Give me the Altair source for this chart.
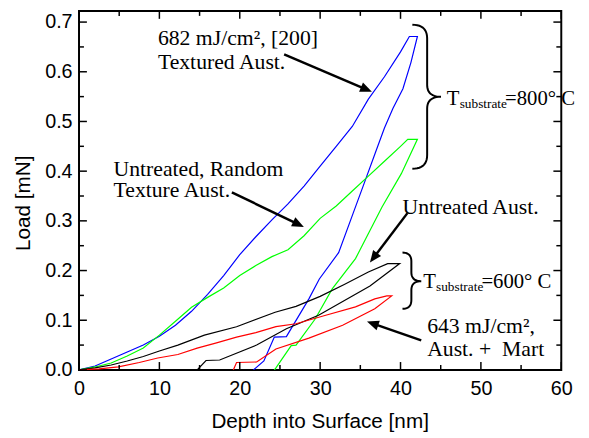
import math
import altair as alt
import numpy as np
import pandas as pd

# ---------------- data ----------------
blue_load_x = [0, 2, 4, 6, 8, 10, 12, 14, 16, 18, 20, 22, 24, 26, 28, 30, 32, 34, 36, 38, 40, 41.1, 42.1]
blue_load_y = [0, 0.008, 0.022, 0.036, 0.05, 0.068, 0.09, 0.118, 0.152, 0.19, 0.232, 0.268, 0.302, 0.334,
               0.37, 0.41, 0.45, 0.49, 0.545, 0.59, 0.64, 0.671, 0.671]
blue_unload_x = [42.1, 41.3, 40.3, 39.05, 38.0, 36.8, 35.6, 34.1, 32.3, 29.9, 28.6, 25.8, 24.3, 23.0, 21.7]
blue_unload_y = [0.671, 0.619, 0.566, 0.526, 0.487, 0.434, 0.381, 0.315, 0.236, 0.183, 0.143, 0.067, 0.066,
                 0.018, 0.0]

green_load_x = [0, 2, 4, 6, 8, 10, 12, 14, 16, 18, 20, 22, 24, 26, 28, 30, 32, 34, 36, 38, 40, 40.9, 42.1]
green_load_y = [0, 0.006, 0.014, 0.028, 0.044, 0.07, 0.098, 0.126, 0.146, 0.165, 0.19, 0.21, 0.228, 0.242,
                0.27, 0.305, 0.33, 0.36, 0.39, 0.42, 0.45, 0.464, 0.464]
green_unload_x = [42.1, 40.1, 37.7, 34.4, 31.5, 29.4, 27.0, 26.4, 24.5, 24.3]
green_unload_y = [0.464, 0.395, 0.328, 0.224, 0.163, 0.103, 0.05, 0.049, 0.004, 0.0]

black_load_x = [0, 2, 4, 6, 8, 10, 12.3, 15.6, 19.6, 24.4, 27, 30, 33, 36, 38.4, 39.9]
black_load_y = [0, 0.004, 0.01, 0.018, 0.027, 0.038, 0.05, 0.07, 0.087, 0.116, 0.128, 0.148, 0.172, 0.197,
                0.214, 0.214]
black_unload_x = [39.9, 36.2, 29.8, 25.8, 22.1, 17.5, 15.8, 14.7]
black_unload_y = [0.214, 0.169, 0.11, 0.083, 0.05, 0.02, 0.019, 0.0]

red_load_x = [0, 2.5, 4.9, 7.5, 9.8, 12.3, 14.7, 17, 19.6, 22, 24.5, 27, 30.7, 34.4, 36.8, 38.3, 38.9]
red_load_y = [0, 0.002, 0.006, 0.015, 0.024, 0.031, 0.044, 0.054, 0.066, 0.075, 0.087, 0.093, 0.11, 0.127,
              0.143, 0.149, 0.149]
red_unload_x = [38.9, 36.8, 32.8, 28.6, 24.5, 22.1, 19.6, 19.2]
red_unload_y = [0.149, 0.123, 0.09, 0.064, 0.042, 0.016, 0.015, 0.0]

curve_names = ["blue", "green", "black", "red"]
curve_colors = ["#0000FF", "#00FF00", "#000000", "#FF0000"]

x_tick_values = [0, 10, 20, 30, 40, 50, 60]
y_tick_values = [0.0, 0.1, 0.2, 0.3, 0.4, 0.5, 0.6, 0.7]
x_minor = [5, 15, 25, 35, 45, 55]
y_minor = [0.05, 0.15, 0.25, 0.35, 0.45, 0.55, 0.65]

# annotation texts
serif_texts = ["682 mJ/cm², [200]", "Textured Aust.", "Untreated, Random", "Texture Aust.",
               "Untreated Aust.", "643 mJ/cm²,", "Aust. +\u00a0 Mart"]
big_texts = ["T", "=800° C", "T", "=600° C"]
sub_texts = ["substrate", "substrate"]

# ---------------- layout ----------------
W, H = 489, 364
XMAX, YMAX = 60, 0.7224
PLOT_LEFT, PLOT_BOTTOM = 80, 372  # page pixels of plot origin


def to_data(px, py):
    return (px - PLOT_LEFT) * XMAX / W, (PLOT_BOTTOM - py) * YMAX / H


# annotation anchor points (page pixels, left / baseline)
serif_pos = [(160, 43), (160, 67), (115, 175), (115, 197), (408, 214), (433, 335), (433, 358)]
big_pos = [(453, 103), (512, 103), (429, 289), (488, 289)]
sub_pos = [(466, 106), (442, 292)]

# arrows: start -> tip (page pixels)
arrows = [((288, 52), (377, 90)), ((235, 192), (308, 227)),
          ((413, 213), (375, 263)), ((427, 342), (372, 323))]

# braces: x_end, x_back, x_tip, y_top, y_mid, y_bottom, r, r2 (page pixels)
braces = [(418, 433, 447, 22, 95, 168, 14, 12), (408, 417, 427, 253, 282, 310, 9, 9)]

# ---------------- frames ----------------
rows = []
series = {
    "blue": (blue_load_x + blue_unload_x[1:], blue_load_y + blue_unload_y[1:]),
    "green": (green_load_x + green_unload_x[1:], green_load_y + green_unload_y[1:]),
    "black": (black_load_x + black_unload_x[1:], black_load_y + black_unload_y[1:]),
    "red": (red_load_x + red_unload_x[1:], red_load_y + red_unload_y[1:]),
}
for name, (xs, ys) in series.items():
    for i, (a, b) in enumerate(zip(xs, ys)):
        rows.append({"depth": a, "load": b, "curve": name, "ord": i})
curves = pd.DataFrame(rows)

xs_scale = alt.Scale(domain=[0, XMAX], nice=False, zero=False)
ys_scale = alt.Scale(domain=[0, YMAX], nice=False, zero=False)

lines = alt.Chart(curves).mark_line(strokeWidth=1.2, clip=True).encode(
    x=alt.X("depth:Q", scale=xs_scale,
            axis=alt.Axis(values=x_tick_values, title=None, ticks=False, domain=False, grid=False,
                          labelFont="Liberation Sans", labelFontSize=20, labelColor="black",
                          labelPadding=9, labelFlush=False, labelOverlap=False)),
    y=alt.Y("load:Q", scale=ys_scale,
            axis=alt.Axis(values=y_tick_values, format=".1f", title=None, ticks=False, domain=False,
                          grid=False, labelFont="Liberation Sans", labelFontSize=20, labelColor="black",
                          labelPadding=7, labelOverlap=False)),
    color=alt.Color("curve:N", scale=alt.Scale(domain=curve_names, range=curve_colors), legend=None),
    detail="curve:N",
    order="ord:Q",
)

layers = [lines]

# ticks (inward)
xmaj = pd.DataFrame({"v": x_tick_values})
xmin = pd.DataFrame({"v": x_minor})
ymaj = pd.DataFrame({"v": y_tick_values})
ymin = pd.DataFrame({"v": y_minor})
for df, ln in ((xmaj, 8), (xmin, 5)):
    layers.append(alt.Chart(df).mark_rule(color="black", strokeWidth=1.5).encode(
        x=alt.X("v:Q", scale=xs_scale), y=alt.value(H), y2=alt.value(H - ln)))
    layers.append(alt.Chart(df).mark_rule(color="black", strokeWidth=1.5).encode(
        x=alt.X("v:Q", scale=xs_scale), y=alt.value(0), y2=alt.value(ln)))
for df, ln in ((ymaj, 8), (ymin, 5)):
    layers.append(alt.Chart(df).mark_rule(color="black", strokeWidth=1.5).encode(
        y=alt.Y("v:Q", scale=ys_scale), x=alt.value(0), x2=alt.value(ln)))
    layers.append(alt.Chart(df).mark_rule(color="black", strokeWidth=1.5).encode(
        y=alt.Y("v:Q", scale=ys_scale), x=alt.value(W), x2=alt.value(W - ln)))


def text_layer(texts, pos, size):
    df = pd.DataFrame([{"t": t, "x": to_data(*p)[0], "y": to_data(*p)[1]} for t, p in zip(texts, pos)])
    return alt.Chart(df).mark_text(align="left", baseline="alphabetic", font="Liberation Serif",
                                   fontSize=size, color="black").encode(
        x=alt.X("x:Q", scale=xs_scale), y=alt.Y("y:Q", scale=ys_scale), text="t:N")


layers.append(text_layer(serif_texts, serif_pos, 22))
layers.append(text_layer(big_texts, big_pos, 21))
layers.append(text_layer(sub_texts, sub_pos, 13.5))

# arrows
arows, hrows = [], []
HEAD = 12
for (s, t) in arrows:
    dx, dy = t[0] - s[0], t[1] - s[1]
    L = math.hypot(dx, dy)
    bx, by = t[0] - dx / L * HEAD * 0.8, t[1] - dy / L * HEAD * 0.8
    sd, bd, td = to_data(*s), to_data(bx, by), to_data(*t)
    arows.append({"x": sd[0], "y": sd[1], "x2": bd[0], "y2": bd[1]})
    ang = math.degrees(math.atan2(dx, -dy)) % 360
    hrows.append({"x": td[0], "y": td[1], "ang": ang})
layers.append(alt.Chart(pd.DataFrame(arows)).mark_rule(color="black", strokeWidth=2.5).encode(
    x=alt.X("x:Q", scale=xs_scale), y=alt.Y("y:Q", scale=ys_scale), x2="x2:Q", y2="y2:Q"))
layers.append(alt.Chart(pd.DataFrame(hrows)).mark_point(
    shape="M0,0L-0.42,1L0.42,1Z", filled=True, size=(2 * HEAD) ** 2, color="black", opacity=1,
    strokeWidth=0).encode(
    x=alt.X("x:Q", scale=xs_scale), y=alt.Y("y:Q", scale=ys_scale), angle=alt.Angle("ang:Q", scale=None)))


# braces
def quad(p0, p1, p2, n=12):
    t = np.linspace(0, 1, n)
    return [((1 - u) ** 2 * p0[0] + 2 * (1 - u) * u * p1[0] + u ** 2 * p2[0],
             (1 - u) ** 2 * p0[1] + 2 * (1 - u) * u * p1[1] + u ** 2 * p2[1]) for u in t]


brows = []
for bi, (x0, xb, xt, yt, ym, yb, r, r2) in enumerate(braces):
    pts = []
    pts += quad((x0, yt), (xb, yt), (xb, yt + r))
    pts += [(xb, ym - r2)]
    pts += quad((xb, ym - r2), (xb, ym), (xt, ym))
    pts += quad((xt, ym), (xb, ym), (xb, ym + r2))
    pts += [(xb, yb - r)]
    pts += quad((xb, yb - r), (xb, yb), (x0, yb))
    for k, p in enumerate(pts):
        d = to_data(*p)
        brows.append({"x": d[0], "y": d[1], "b": bi, "o": k})
layers.append(alt.Chart(pd.DataFrame(brows)).mark_line(color="black", strokeWidth=2).encode(
    x=alt.X("x:Q", scale=xs_scale), y=alt.Y("y:Q", scale=ys_scale), detail="b:N", order="o:Q"))

# axis titles
title_df = pd.DataFrame({"t": ["Depth into Surface [nm]"]})
layers.append(alt.Chart(title_df).mark_text(font="Liberation Sans", fontSize=21, color="black",
                                            baseline="middle", align="center").encode(
    x=alt.value(W / 2), y=alt.value(417), text="t:N"))
ytitle_df = pd.DataFrame({"t": ["Load [mN]"]})
layers.append(alt.Chart(ytitle_df).mark_text(font="Liberation Sans", fontSize=21, color="black",
                                             baseline="middle", align="center", angle=270).encode(
    x=alt.value(-56), y=alt.value(195), text="t:N"))

chart = alt.layer(*layers).properties(
    width=W, height=H,
    autosize=alt.AutoSizeParams(type="none"),
    padding={"left": 72, "top": 0, "right": 20, "bottom": 64},
    background="white",
).configure_view(stroke="black", strokeWidth=2)

chart.save("out.html", embed_options={"renderer": "svg", "actions": False})
